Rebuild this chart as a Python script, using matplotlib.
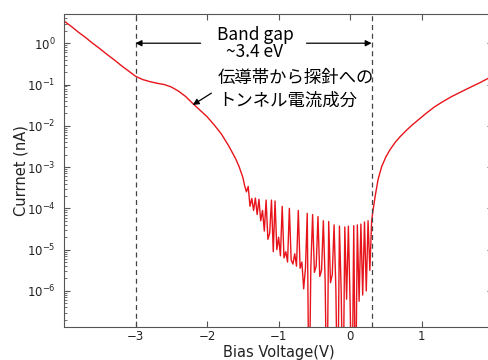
import matplotlib
matplotlib.use('Agg')
import matplotlib.pyplot as plt
import numpy as np

# --- data (bias in V, log10 of current in nA) ---
bias_left = [-4.00, -3.90, -3.80, -3.70, -3.60, -3.50, -3.40, -3.30, -3.20,
             -3.10, -3.00, -2.90, -2.80, -2.70, -2.60, -2.50, -2.40, -2.30, -2.20,
             -2.10, -2.00, -1.90, -1.80, -1.70, -1.60, -1.55, -1.50, -1.475]
logi_left = [0.54, 0.41, 0.27, 0.14, 0.00, -0.13, -0.27, -0.40, -0.54,
             -0.67, -0.80, -0.88, -0.93, -0.97, -1.00, -1.06, -1.16, -1.29, -1.46,
             -1.62, -1.78, -1.98, -2.20, -2.48, -2.80, -3.00, -3.25, -3.45]

# noisy region inside the gap
bias_gap = [-1.450, -1.425, -1.400, -1.375, -1.350, -1.325, -1.300, -1.275, -1.250, -1.225,
            -1.200, -1.175, -1.150, -1.125, -1.100, -1.075, -1.050, -1.025, -1.000, -0.975,
            -0.950, -0.925, -0.900, -0.875, -0.850, -0.825, -0.800, -0.775, -0.750, -0.725,
            -0.700, -0.675, -0.650, -0.625, -0.600, -0.575, -0.550, -0.525, -0.500, -0.475,
            -0.450, -0.425, -0.400, -0.375, -0.350, -0.325, -0.300, -0.275, -0.250, -0.225,
            -0.200, -0.175, -0.150, -0.125, -0.100, -0.075, -0.050, -0.025, 0.000, 0.025,
            0.050, 0.075, 0.100, 0.125, 0.150, 0.175, 0.200, 0.225, 0.250, 0.275,
            0.300]
logi_gap = [-3.60, -3.47, -3.95, -3.76, -4.05, -3.75, -4.15, -3.78, -4.30, -4.05,
            -4.55, -3.80, -4.75, -4.60, -3.80, -5.05, -3.82, -5.00, -4.70, -5.15,
            -3.95, -5.20, -5.05, -5.30, -4.00, -5.25, -5.35, -5.10, -5.40, -4.05,
            -5.45, -5.30, -5.95, -5.45, -4.12, -9.00, -5.45, -4.15, -5.55, -5.40,
            -4.20, -5.65, -5.50, -4.30, -5.75, -9.00, -4.32, -5.80, -5.60, -4.40,
            -5.95, -9.00, -4.43, -6.05, -9.00, -4.45, -6.20, -4.43, -6.35, -9.00,
            -4.42, -9.00, -4.40, -6.25, -4.38, -6.10, -4.33, -6.00, -4.30, -5.50,
            -4.30]

bias_right = [0.32, 0.35, 0.39, 0.44, 0.50, 0.56, 0.63, 0.70, 0.78, 0.86, 0.95,
              1.06, 1.18, 1.30, 1.42, 1.56, 1.70, 1.82, 1.93, 2.00]
logi_right = [-4.04, -3.70, -3.30, -2.99, -2.75, -2.57, -2.40, -2.26, -2.12, -1.99, -1.86,
              -1.70, -1.54, -1.41, -1.29, -1.17, -1.05, -0.95, -0.85, -0.79]

gap_edges = [-3.0, 0.3]

bias = np.array(bias_left + bias_gap + bias_right)
current = 10.0 ** np.array(logi_left + logi_gap + logi_right)

# --- figure ---
fig = plt.figure(figsize=(4.88, 3.6), dpi=100)
ax = fig.add_axes([0.1311, 0.0925, 0.8797, 0.8686])

ax.semilogy(bias, current, color='#e8141b', lw=1.0)
for xv in gap_edges:
    ax.axvline(xv, color='#444444', lw=0.9, ls=(0, (4, 3)))

ax.set_xlim(-4, 2)
ax.set_ylim(1.36e-7, 5.1)
ax.set_xticks([-3, -2, -1, 0, 1])

for s in ax.spines.values():
    s.set_color('#555555')
ax.tick_params(which='both', direction='in', top=True, right=True, colors='#555555',
               labelcolor='#222222', labelsize=8.5)
ax.tick_params(which='major', length=4)
ax.tick_params(which='minor', length=2)
ax.tick_params(axis='x', pad=2.5)
ax.tick_params(axis='y', pad=6)

ax.set_xlabel('Bias Voltage(V)', fontsize=10.5, color='#222222', labelpad=1)
ax.set_ylabel('Currnet (nA)', fontsize=10.5, color='#222222', labelpad=-1.5)

# annotations
jp = ['Noto Sans CJK JP', 'DejaVu Sans']
arr = dict(arrowstyle='-|>', color='black', lw=0.9, mutation_scale=9, shrinkA=0, shrinkB=0)
ax.annotate('', xy=(-3.0, 1.0), xytext=(-2.09, 1.0), arrowprops=arr)
ax.annotate('', xy=(0.30, 1.0), xytext=(-0.61, 1.0), arrowprops=arr)
ax.text(-1.33, 1.0, 'Band gap\n~3.4 eV', ha='center', va='center', fontsize=12.5,
        family=jp, linespacing=0.95)
ax.text(-1.85, 0.078, '伝導帯から探針への\nトンネル電流成分', ha='left', va='center',
        fontsize=12.5, family=jp, linespacing=1.35)
ax.annotate('', xy=(-2.2, 0.032), xytext=(-1.94, 0.0617), arrowprops=arr)

fig.savefig('out.png', dpi=100, facecolor='white')
